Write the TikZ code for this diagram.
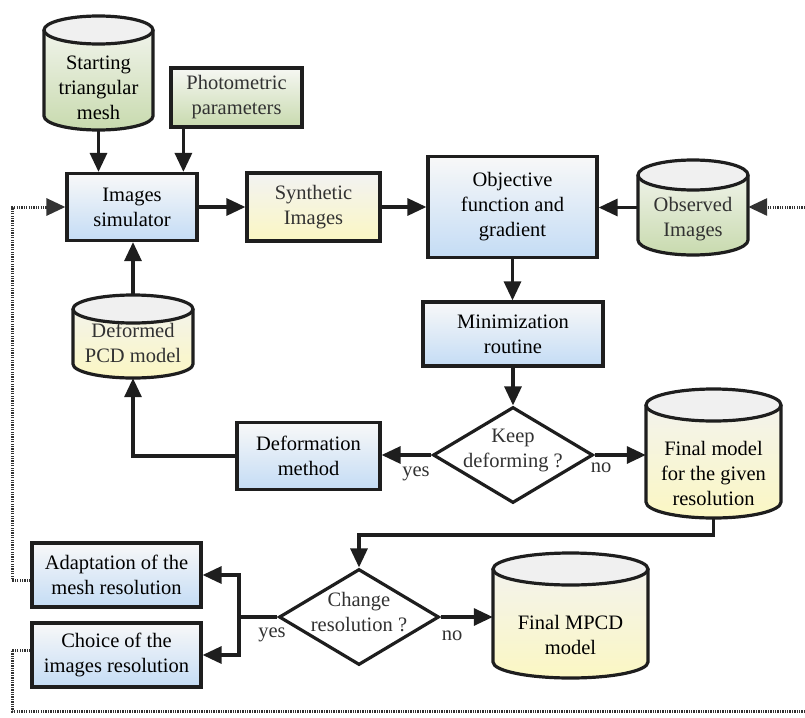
\documentclass[tikz,border=0pt]{standalone}
\usepackage{fontspec}
\setmainfont{Liberation Serif}
\usetikzlibrary{arrows.meta,shapes.geometric,calc}
\definecolor{linec}{RGB}{30,30,30}
\definecolor{txtg}{RGB}{50,50,50}
\definecolor{btop}{RGB}{248,248,248}
\definecolor{bbot}{RGB}{196,220,245}
\definecolor{gtop}{RGB}{246,247,243}
\definecolor{gbot}{RGB}{200,218,174}
\definecolor{ytop}{RGB}{242,242,242}
\definecolor{ybot}{RGB}{251,247,195}
\definecolor{cyltop}{RGB}{240,240,240}
\newcommand\fsz{\fontsize{20.5}{25}\selectfont}
% name, cx, top, bottom, width, ry, fill style, text y, text
\newcommand\dbcyl[9]{%
  \path[#7] ({#2-#5/2},{#3+#6}) -- ({#2-#5/2},{#4-#6})
     arc[start angle=180,end angle=0,x radius={#5/2},y radius=#6]
     -- ({#2+#5/2},{#3+#6})
     arc[start angle=0,end angle=-180,x radius={#5/2},y radius=#6] -- cycle;
  \path[fill=cyltop] (#2,{#3+#6}) ellipse[x radius={#5/2},y radius=#6];
  \draw[cylline] ({#2-#5/2},{#3+#6}) -- ({#2-#5/2},{#4-#6})
     arc[start angle=180,end angle=0,x radius={#5/2},y radius=#6]
     -- ({#2+#5/2},{#3+#6});
  \draw[cylline] (#2,{#3+#6}) ellipse[x radius={#5/2},y radius=#6];
  \node[inner sep=0pt, minimum width=#5, minimum height={#4-#3}] (#1) at (#2,{(#3+#4)/2}) {};
  \node[cyltext] at (#2,#8) {#9};
}
\begin{document}
\begin{tikzpicture}[x={(1pt,0)},y={(0,-1pt)},
  box/.style={draw=linec, line width=3.2pt, inner sep=0pt, align=center, font=\fsz},
  bluebox/.style={box, top color=btop, bottom color=bbot},
  greenbox/.style={box, top color=gtop, bottom color=gbot, text=txtg},
  yellowbox/.style={box, top color=ytop, bottom color=ybot, text=txtg},
  cylline/.style={draw=linec, line width=3.2pt},
  cyltext/.style={align=center, font=\fsz, inner sep=0pt},
  gfill/.style={top color=gtop, bottom color=gbot},
  yfill/.style={top color=ytop, bottom color=ybot},
  dia/.style={diamond, draw=linec, line width=3.2pt, fill=white, inner sep=0pt, minimum width=160pt, minimum height=96pt},
  diatext/.style={align=center, font=\fsz, text=txtg, inner sep=0pt},
  arr/.style={draw=linec, line width=3.2pt, -{Triangle[length=19pt,width=17pt]}},
  plain/.style={draw=linec, line width=3.2pt},
  dots/.style={draw=black!80, line width=3pt, dash pattern=on 1.3pt off 1.1pt},
  dotarr/.style={dots, -{Triangle[length=19pt,width=17pt]}},
  lab/.style={font=\fsz, text=txtg, inner sep=0pt}
]
\useasboundingbox (0,0) rectangle (805,717);

% ---- cylinders
\dbcyl{mesh}{98.5}{16}{130}{109}{14}{gfill}{88}{Starting\\triangular\\mesh}
\dbcyl{obs}{693}{160}{255}{110}{15}{gfill}{219}{\color{txtg}Observed\\\color{txtg}Images}
\dbcyl{pcd}{133}{295}{378}{120}{14}{yfill}{343}{\color{txtg}Deformed\\\color{txtg}PCD model}
\dbcyl{fin}{713.5}{389}{518}{135}{16}{yfill}{473}{Final model\\for the given\\resolution}
\dbcyl{mpcd}{570.5}{553}{678}{155}{16}{yfill}{635}{Final MPCD\\model}

% ---- boxes
\node[greenbox, minimum width=131, minimum height=59] (photo) at (236.5,97.5) {Photometric\\parameters};
\node[bluebox, minimum width=130, minimum height=67] (sim) at (132,207) {Images\\simulator};
\node[yellowbox, minimum width=133, minimum height=68] (syn) at (313.5,207) {Synthetic\\Images};
\node[bluebox, minimum width=169, minimum height=101] (obj) at (512.5,207) {Objective\\function and\\gradient};
\node[bluebox, minimum width=180, minimum height=64] (min) at (513,334) {Minimization\\routine};
\node[bluebox, minimum width=143, minimum height=67] (def) at (308.5,456) {Deformation\\method};
\node[bluebox, minimum width=169, minimum height=64] (ada) at (116.5,575) {Adaptation of the\\mesh resolution};
\node[bluebox, minimum width=169, minimum height=64] (cho) at (116.5,655) {Choice of the\\images resolution};

% ---- decisions
\node[dia] (keep) at (513,455) {};
\node[diatext] at (513,450) {Keep\\deforming ?};
\node[dia] (chg) at (359,617) {};
\node[diatext] at (359,612) {Change\\resolution ?};

% ---- connectors
\draw[arr] (mesh.south) -- (mesh.south |- sim.north);
\path (photo.south west) ++(14,0) coordinate (pa);
\draw[arr] (pa) -- (pa |- sim.north);
\draw[arr] (sim.east) -- (sim.east -| syn.west);
\draw[arr] (syn.east) -- (syn.east -| obj.west);
\draw[arr] (obs.west) -- (obs.west -| obj.east);
\draw[arr] (obj.south) -- (obj.south |- min.north);
\draw[arr] (min.south) -- (keep.north);
\draw[arr] (keep.west) -- (keep.west -| def.east);
\draw[arr] (keep.east) -- (keep.east -| fin.west);
\draw[arr] (def.west) -| (pcd.south);
\draw[arr] (pcd.north) -- (pcd.north |- sim.south);
\coordinate (fy) at (0,535);
\draw[arr] (fin.south) -- (fin.south |- fy) -| (chg.north);
\draw[arr] (chg.east) -- (chg.east -| mpcd.west);
\coordinate (yb) at (239,617);
\draw[plain] (chg.west) -- (yb);
\draw[arr] (yb) |- (ada.east);
\draw[arr] (yb) |- (cho.east);

% ---- dotted feedback
\coordinate (rt) at (805,207);
\draw[dotarr] (rt) -- (rt -| obs.east);
\coordinate (y580) at (0,580);
\coordinate (y650) at (0,650);
\coordinate (lx) at (12,400);
\coordinate (lx2) at (12,711);
\coordinate (br) at (805,711);
\draw[dotarr] (ada.west |- y580) -| (lx) |- (sim.west);
\draw[dots] (cho.west |- y650) -| (lx2) -- (br);

% ---- labels
\node[lab] at (416,474) {yes};
\node[lab] at (601,468) {no};
\node[lab] at (272,635) {yes};
\node[lab] at (452,636) {no};
\end{tikzpicture}
\end{document}
